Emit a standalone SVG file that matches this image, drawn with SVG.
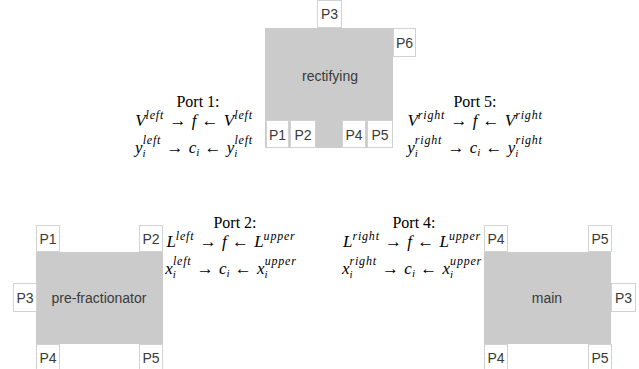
<svg xmlns="http://www.w3.org/2000/svg" width="639" height="369" viewBox="0 0 639 369">
<style>
.body{fill:#cbcbcb;stroke:none}
.port{fill:#ffffff;stroke:#d2d2d2;stroke-width:1}
.pt{font-family:"Liberation Sans",Arial,sans-serif;font-size:14px;fill:#3a3a3a;text-anchor:middle}
.nl{font-family:"Liberation Sans",Arial,sans-serif;font-size:14px;fill:#3a3a3a;text-anchor:middle}
.pl{font-family:"Liberation Serif","Times New Roman",serif;font-size:16px;fill:#000;text-anchor:middle}
.m{font-family:"Liberation Serif","Times New Roman",serif;font-style:italic;font-size:17px;fill:#000;text-anchor:middle}
.s{font-size:12px;letter-spacing:0.8px}
.b{font-size:11px}
.n{font-style:normal;word-spacing:1px}
</style>
<rect width="639" height="369" fill="#ffffff"/>
<g id="connectors"/>
<g id="rectifying">
<rect class="body" x="265" y="28" width="128" height="120"/>
<text class="nl" x="330" y="81">rectifying</text>
<rect class="port" x="317.5" y="0.5" width="24" height="27"/><text class="pt" x="329.5" y="19">P3</text>
<rect class="port" x="393.5" y="28.5" width="22" height="28"/><text class="pt" x="404.5" y="48">P6</text>
<rect class="port" x="266.5" y="120.5" width="22" height="27"/><text class="pt" x="277.5" y="140">P1</text>
<rect class="port" x="290.5" y="120.5" width="25" height="27"/><text class="pt" x="303" y="140">P2</text>
<rect class="port" x="342.5" y="120.5" width="23" height="27"/><text class="pt" x="354" y="140">P4</text>
<rect class="port" x="367.5" y="120.5" width="25" height="27"/><text class="pt" x="380" y="140">P5</text>
</g>
<g id="pre-fractionator">
<rect class="body" x="36" y="252" width="127" height="92"/>
<text class="nl" x="99" y="303">pre-fractionator</text>
<rect class="port" x="36.5" y="225.5" width="23" height="26"/><text class="pt" x="48" y="244">P1</text>
<rect class="port" x="139.5" y="225.5" width="23" height="26"/><text class="pt" x="151" y="244">P2</text>
<rect class="port" x="13.5" y="283.5" width="23" height="28"/><text class="pt" x="25" y="303">P3</text>
<rect class="port" x="36.5" y="344.5" width="23" height="28"/><text class="pt" x="48" y="363">P4</text>
<rect class="port" x="139.5" y="344.5" width="23" height="28"/><text class="pt" x="151" y="363">P5</text>
</g>
<g id="main">
<rect class="body" x="484" y="252" width="127" height="92"/>
<text class="nl" x="547" y="303">main</text>
<rect class="port" x="484.5" y="225.5" width="23" height="26"/><text class="pt" x="496" y="244">P4</text>
<rect class="port" x="588.5" y="225.5" width="23" height="26"/><text class="pt" x="600" y="244">P5</text>
<rect class="port" x="611.5" y="283.5" width="24" height="28"/><text class="pt" x="623.5" y="303">P3</text>
<rect class="port" x="484.5" y="344.5" width="23" height="28"/><text class="pt" x="496" y="363">P4</text>
<rect class="port" x="588.5" y="344.5" width="23" height="28"/><text class="pt" x="600" y="363">P5</text>
</g>
<g id="port1">
<text class="pl" x="198" y="107">Port 1:</text>
<text class="m" x="194" y="126">V<tspan class="s" dy="-7">left</tspan><tspan class="n" dy="7"> → </tspan>f<tspan class="n"> ← </tspan>V<tspan class="s" dy="-7">left</tspan></text>
<text class="m" x="194" y="153">y<tspan class="b" dy="4">i</tspan><tspan class="s" dx="-3" dy="-13">left</tspan><tspan class="n" dy="9"> → </tspan>c<tspan class="b" dy="3">i</tspan><tspan class="n" dy="-3"> ← </tspan>y<tspan class="b" dy="4">i</tspan><tspan class="s" dx="-3" dy="-13">left</tspan></text>
</g>
<g id="port5">
<text class="pl" x="475" y="107">Port 5:</text>
<text class="m" x="475" y="126">V<tspan class="s" dy="-7">right</tspan><tspan class="n" dy="7"> → </tspan>f<tspan class="n"> ← </tspan>V<tspan class="s" dy="-7">right</tspan></text>
<text class="m" x="475" y="153">y<tspan class="b" dy="4">i</tspan><tspan class="s" dx="-3" dy="-13">right</tspan><tspan class="n" dy="9"> → </tspan>c<tspan class="b" dy="3">i</tspan><tspan class="n" dy="-3"> ← </tspan>y<tspan class="b" dy="4">i</tspan><tspan class="s" dx="-3" dy="-13">right</tspan></text>
</g>
<g id="port2">
<text class="pl" x="235" y="228">Port 2:</text>
<text class="m" x="231" y="247">L<tspan class="s" dy="-7">left</tspan><tspan class="n" dy="7"> → </tspan>f<tspan class="n"> ← </tspan>L<tspan class="s" dy="-7">upper</tspan></text>
<text class="m" x="231" y="274">x<tspan class="b" dy="4">i</tspan><tspan class="s" dx="-3" dy="-13">left</tspan><tspan class="n" dy="9"> → </tspan>c<tspan class="b" dy="3">i</tspan><tspan class="n" dy="-3"> ← </tspan>x<tspan class="b" dy="4">i</tspan><tspan class="s" dx="-3" dy="-13">upper</tspan></text>
</g>
<g id="port4">
<text class="pl" x="414" y="228">Port 4:</text>
<text class="m" x="412" y="247">L<tspan class="s" dy="-7">right</tspan><tspan class="n" dy="7"> → </tspan>f<tspan class="n"> ← </tspan>L<tspan class="s" dy="-7">upper</tspan></text>
<text class="m" x="412" y="274">x<tspan class="b" dy="4">i</tspan><tspan class="s" dx="-3" dy="-13">right</tspan><tspan class="n" dy="9"> → </tspan>c<tspan class="b" dy="3">i</tspan><tspan class="n" dy="-3"> ← </tspan>x<tspan class="b" dy="4">i</tspan><tspan class="s" dx="-3" dy="-13">upper</tspan></text>
</g>
</svg>
